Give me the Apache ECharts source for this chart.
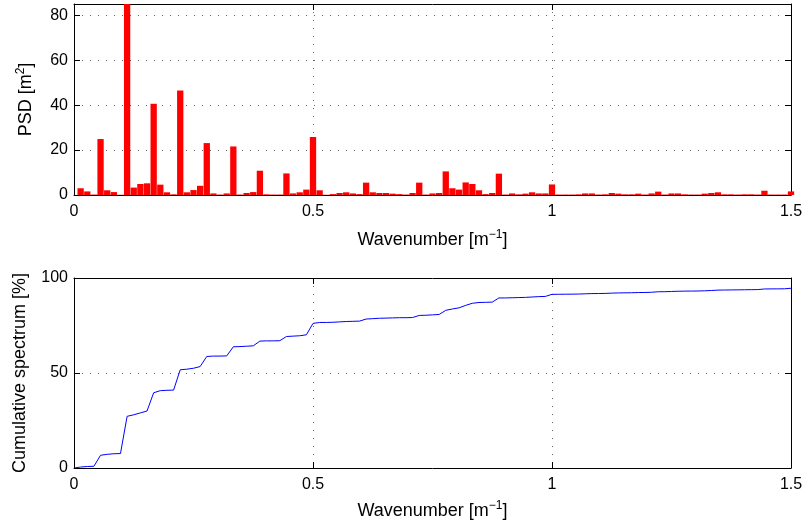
<!DOCTYPE html>
<html>
<head>
<meta charset="utf-8">
<script src="https://cdn.jsdelivr.net/npm/echarts@6/dist/echarts.min.js"></script>
<style>
html,body{margin:0;padding:0;background:#fff;}
#c{width:807px;height:528px;}
</style>
</head>
<body>
<div id="c"></div>
<script>
// wavenumber spacing of the spectrum bins [1/m]
const wavenumberStep = 1 / 72;

// PSD values [m^2] for bins 1..108
const psdValues = [
  3.0, 1.6, 0.2, 24.9, 2.1, 1.3, 0.1, 86, 3.3, 4.9,
  5.2, 40.6, 4.6, 1.2, 0.3, 46.5, 1.2, 2.2, 4.1, 23.1,
  0.7, 0.2, 0.7, 21.6, 0.2, 0.9, 1.3, 10.8, 0.3, 0.2,
  0.2, 9.6, 0.7, 1.2, 2.4, 25.8, 2.1, 0.1, 0.4, 0.9,
  1.2, 0.7, 0.4, 5.5, 1.2, 0.9, 0.9, 0.6, 0.4, 0.2,
  0.9, 5.5, 0.2, 0.7, 0.9, 10.5, 3.0, 2.4, 5.6, 4.9,
  2.1, 0.4, 0.9, 9.5, 0.2, 0.7, 0.3, 0.6, 1.2, 0.7,
  0.7, 4.7, 0.2, 0.2, 0.2, 0.3, 0.7, 0.7, 0.2, 0.3,
  0.9, 0.6, 0.3, 0.3, 0.6, 0.2, 0.7, 1.5, 0.2, 0.7,
  0.7, 0.3, 0.2, 0.2, 0.6, 0.9, 1.2, 0.3, 0.3, 0.2,
  0.3, 0.3, 0.2, 1.9, 0.2, 0.2, 0.2, 1.6
];

// Cumulative spectrum [%] for bins 0..108
const cumulativeValues = [
  0, 0.5, 0.8, 0.9, 6.7, 7.2, 7.5, 7.6, 27.2, 28.0,
  29.0, 30.0, 39.6, 40.7, 40.9, 41.0, 51.7, 52.0, 52.5, 53.4,
  58.7, 58.9, 58.9, 59.0, 63.8, 63.9, 64.1, 64.3, 66.8, 66.9,
  66.9, 67.0, 69.2, 69.4, 69.6, 70.1, 76.1, 76.6, 76.6, 76.7,
  76.9, 77.1, 77.2, 77.3, 78.4, 78.6, 78.8, 78.9, 79.0, 79.1,
  79.1, 79.2, 80.3, 80.4, 80.6, 80.8, 83.0, 83.7, 84.3, 85.6,
  86.7, 87.1, 87.2, 87.3, 89.5, 89.5, 89.6, 89.7, 89.8, 90.0,
  90.2, 90.3, 91.4, 91.43, 91.47, 91.5, 91.55, 91.68, 91.8, 91.83,
  91.88, 92.04, 92.14, 92.19, 92.24, 92.35, 92.38, 92.5, 92.76, 92.79,
  92.91, 93.03, 93.09, 93.12, 93.15, 93.26, 93.41, 93.62, 93.67, 93.72,
  93.76, 93.81, 93.86, 93.89, 94.22, 94.26, 94.29, 94.32, 94.6
];

// axis tick settings
const xTicks = { min: 0, max: 1.5, interval: 0.5 };
const psdTicks = { min: 0, max: 85, interval: 20 };
const cumTicks = { min: 0, max: 100, interval: 50 };

const psdData = psdValues.map((v, i) => [(i + 1) * wavenumberStep, v]);
const cumData = cumulativeValues.map((v, i) => [i * wavenumberStep, v]);

const FONT = 'Liberation Sans, Arial, Helvetica, sans-serif';
const rich = {
  a: { fontFamily: FONT, fontSize: 18, color: '#000' },
  sup: { fontFamily: FONT, fontSize: 12, color: '#000', padding: [0, 0, 10, 0] }
};
const gridLine = { show: true, lineStyle: { color: '#666', type: [1, 7], width: 1 } };
const axisLine = { show: true, onZero: false, lineStyle: { color: '#000', width: 1 } };
const tick = { show: true, inside: true, length: 6, lineStyle: { color: '#000' } };
const tickFont = { color: '#000', fontFamily: FONT, fontSize: 16 };

function mainX(gridIndex, gap) {
  return {
    type: 'value', gridIndex, position: 'bottom',
    min: xTicks.min, max: xTicks.max, interval: xTicks.interval,
    axisLine, axisTick: tick, splitLine: gridLine,
    axisLabel: Object.assign({ margin: 9 }, tickFont),
    name: '{a|Wavenumber [m}{sup|−1}{a|]}',
    nameLocation: 'middle', nameGap: gap,
    nameTextStyle: { rich }
  };
}
function mirrorX(gridIndex) {
  return {
    type: 'value', gridIndex, position: 'top',
    min: xTicks.min, max: xTicks.max, interval: xTicks.interval,
    axisLine, axisTick: tick, splitLine: { show: false }, axisLabel: { show: false }
  };
}
function mirrorY(gridIndex, t) {
  return {
    type: 'value', gridIndex, position: 'right',
    min: t.min, max: t.max, interval: t.interval,
    axisLine, axisTick: tick, splitLine: { show: false }, axisLabel: { show: false }
  };
}

const option = {
  animation: false,
  backgroundColor: '#fff',
  grid: [
    { left: 74, top: 4, width: 717, height: 191 },
    { left: 74, top: 278, width: 717, height: 190 }
  ],
  xAxis: [mainX(0, 34), mirrorX(0), mainX(1, 32), mirrorX(1)],
  yAxis: [
    {
      type: 'value', gridIndex: 0, position: 'left',
      min: psdTicks.min, max: psdTicks.max, interval: psdTicks.interval,
      axisLine, axisTick: tick, splitLine: gridLine,
      axisLabel: Object.assign({ margin: 6, showMaxLabel: false }, tickFont),
      name: '{a|PSD [m}{sup|2}{a|]}',
      nameLocation: 'middle', nameGap: 37, nameRotate: 90,
      nameTextStyle: { rich }
    },
    mirrorY(0, psdTicks),
    {
      type: 'value', gridIndex: 1, position: 'left',
      min: cumTicks.min, max: cumTicks.max, interval: cumTicks.interval,
      axisLine, axisTick: tick, splitLine: gridLine,
      axisLabel: Object.assign({ margin: 6 }, tickFont),
      name: 'Cumulative spectrum [%]',
      nameLocation: 'middle', nameGap: 45, nameRotate: 90,
      nameTextStyle: { fontFamily: FONT, fontSize: 18, color: '#000' }
    },
    mirrorY(1, cumTicks)
  ],
  series: [
    {
      type: 'bar', xAxisIndex: 0, yAxisIndex: 0,
      data: psdData, barWidth: 6.3,
      itemStyle: { color: '#ff0000' }
    },
    {
      type: 'line', xAxisIndex: 2, yAxisIndex: 2,
      data: cumData, showSymbol: false, symbol: 'none',
      lineStyle: { color: '#0000ff', width: 1 }
    }
  ]
};

const chart = echarts.init(document.getElementById('c'), null, { renderer: 'canvas' });
chart.setOption(option);
</script>
</body>
</html>
